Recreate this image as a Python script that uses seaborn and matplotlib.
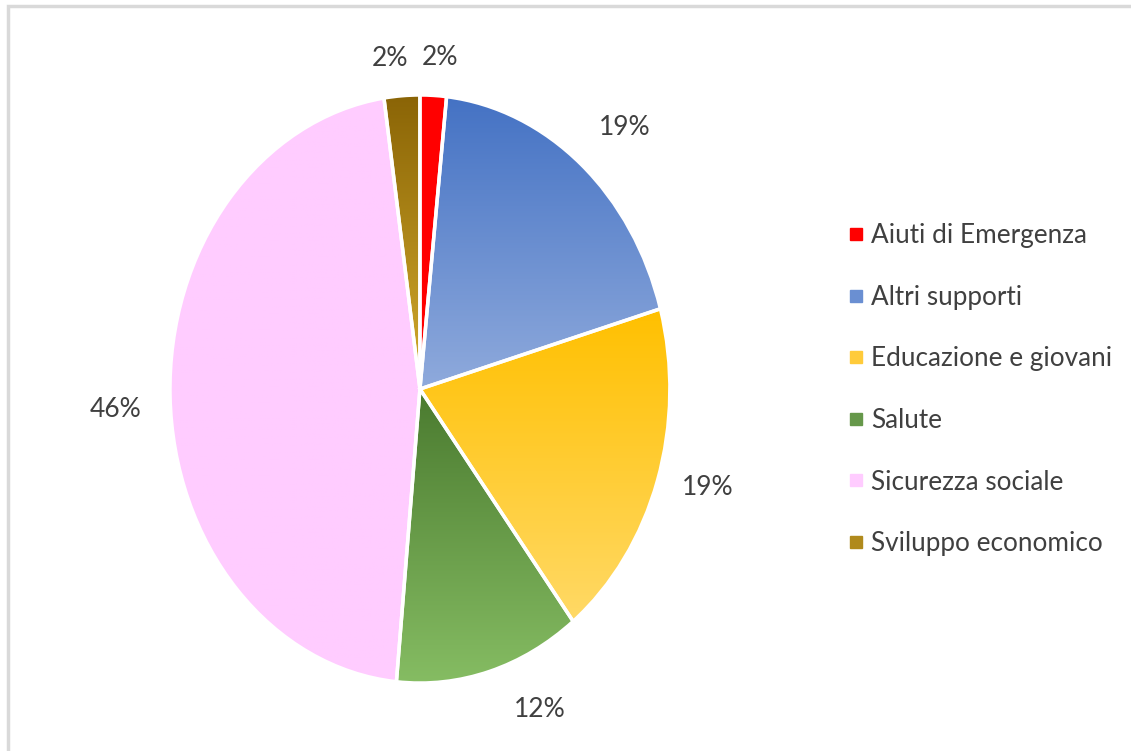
import numpy as np
import matplotlib

matplotlib.use("Agg")
import matplotlib.pyplot as plt
import seaborn as sns
from matplotlib.colors import LinearSegmentedColormap
from matplotlib.lines import Line2D

sns.set_style("white")
plt.rcParams["font.family"] = ["Lato", "DejaVu Sans"]

# ---------------------------------------------------------
# Data (share of funds per sector, %)
# ---------------------------------------------------------
categories = [
    "Aiuti di Emergenza",
    "Altri supporti",
    "Educazione e giovani",
    "Salute",
    "Sicurezza sociale",
    "Sviluppo economico",
]
shares = [1.7, 18.9, 18.9, 12.0, 46.2, 2.3]
label_text = ["2%", "19%", "19%", "12%", "46%", "2%"]

# gradient colours per slice: (top, bottom)
grad_colors = [
    ("#ff0000", "#ff0000"),
    ("#4472c4", "#8faadc"),
    ("#ffc000", "#ffd966"),
    ("#4a7a2f", "#86bd63"),
    ("#ffccff", "#ffccff"),
    ("#8a6406", "#d4ac2c"),
]
legend_colors = ["#ff0000", "#6a8fd2", "#ffcb3a", "#66984a", "#ffccff", "#b08a1c"]
label_dist = [1.13, 1.21, 1.2, 1.19, 1.22, 1.13]
label_shift = [-1.0, -2.5, 1.9, 7.5, 1.9, 2.0]  # degrees, nudge labels like Excel's best fit

fig = plt.figure(figsize=(11.31, 7.51), dpi=100)
ax = fig.add_axes([0.1503, 0.0905, 0.442, 0.783])

wedges, _ = ax.pie(
    shares,
    startangle=90,
    counterclock=False,
    wedgeprops=dict(edgecolor="white", linewidth=2.5),
)
ax.set_aspect("auto")

# gradient fill clipped to each wedge (top darker, bottom lighter)
for w, (c_top, c_bot) in zip(wedges, grad_colors):
    verts = w.get_path().vertices
    x0, y0 = verts.min(axis=0)
    x1, y1 = verts.max(axis=0)
    cmap = LinearSegmentedColormap.from_list("g", [c_bot, c_top])
    grad = np.linspace(0, 1, 256).reshape(-1, 1)
    im = ax.imshow(
        grad,
        cmap=cmap,
        extent=(x0, x1, y0, y1),
        origin="lower",
        aspect="auto",
        zorder=1,
    )
    im.set_clip_path(w)
    w.set_facecolor("none")
    w.set_zorder(2)
ax.set_xlim(-1, 1)
ax.set_ylim(-1, 1)

# percentage labels outside slices
cum = np.cumsum([0] + shares[:-1])
for start, s, txt, d, sh in zip(cum, shares, label_text, label_dist, label_shift):
    ang = np.deg2rad(90 - (start + s / 2) / 100 * 360 + sh)
    ax.text(
        d * np.cos(ang),
        d * np.sin(ang),
        txt,
        ha="center",
        va="center",
        fontsize=19,
        color="#404040",
        clip_on=False,
    )

handles = [
    Line2D([], [], marker="s", linestyle="none", markersize=8,
           markerfacecolor=c, markeredgecolor=c)
    for c in legend_colors
]
fig.legend(
    handles,
    categories,
    loc="center left",
    bbox_to_anchor=(0.729, 0.481),
    frameon=False,
    fontsize=18.8,
    labelcolor="#404040",
    handlelength=0.6,
    handletextpad=0.3,
    labelspacing=1.4,
)

# light frame as in the original chart area (left and top edges visible)
fig.add_artist(
    plt.Rectangle((0.0075, -0.1), 1.2, 1.0925, transform=fig.transFigure,
                  fill=False, edgecolor="#d9d9d9", linewidth=2.5)
)

plt.savefig("out.png", dpi=100)
